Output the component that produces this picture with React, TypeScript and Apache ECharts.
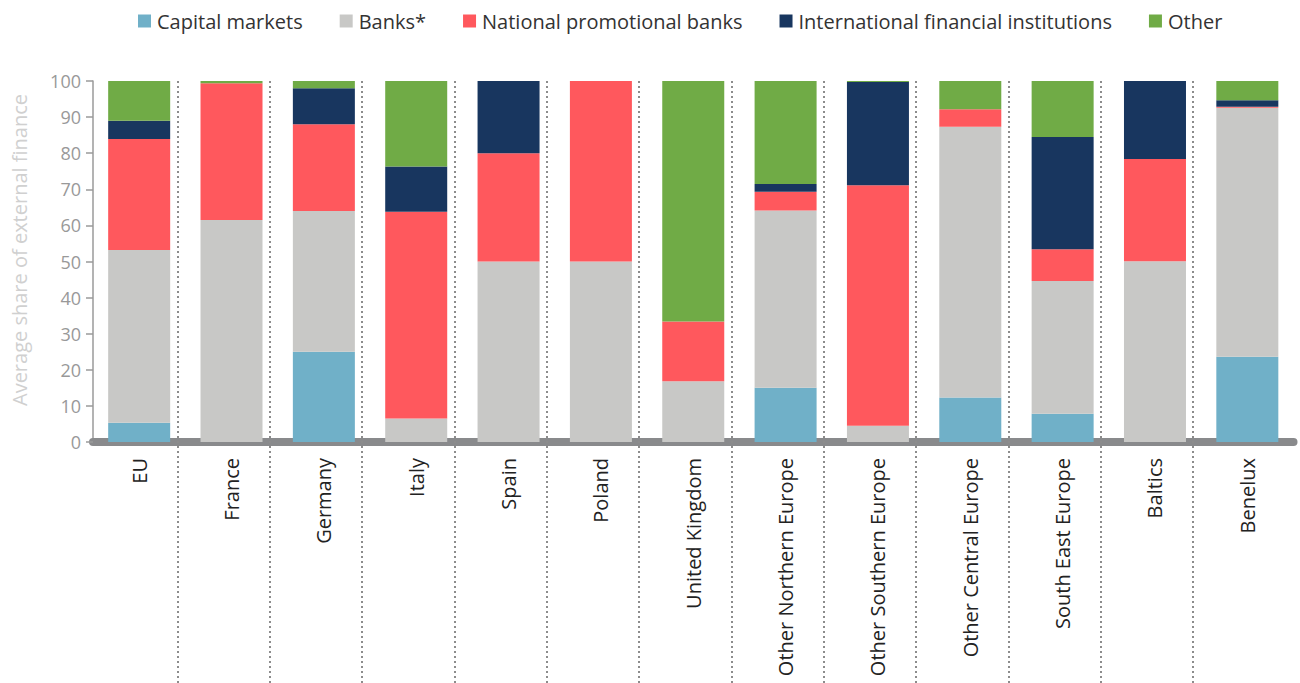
import React, { useEffect, useRef } from "react";
import * as echarts from "echarts";

const categories = [
  "EU",
  "France",
  "Germany",
  "Italy",
  "Spain",
  "Poland",
  "United Kingdom",
  "Other Northern Europe",
  "Other Southern Europe",
  "Other Central Europe",
  "South East Europe",
  "Baltics",
  "Benelux",
];

const capitalMarkets = [5.3, 0, 25, 0, 0, 0, 0, 15.0, 0, 12.3, 7.8, 0, 23.6];
const banks = [47.9, 61.5, 39, 6.5, 50, 50, 16.8, 49.1, 4.5, 75.0, 36.8, 50.1, 69.0];
const nationalPromotional = [30.7, 37.9, 24, 57.3, 30, 50, 16.6, 5.2, 66.6, 4.9, 8.8, 28.3, 0.3];
const internationalFI = [5.1, 0, 10, 12.5, 20, 0, 0, 2.2, 28.6, 0, 31.1, 21.6, 1.8];
const other = [11.0, 0.6, 2, 23.7, 0, 0, 66.6, 28.5, 0.3, 7.8, 15.5, 0, 5.3];

const seriesNames = [
  "Capital markets",
  "Banks*",
  "National promotional banks",
  "International financial institutions",
  "Other",
];
const seriesColors = ["#70b0c8", "#c8c8c6", "#ff585d", "#18365f", "#70ab46"];
const seriesValues = [capitalMarkets, banks, nationalPromotional, internationalFI, other];

const yTicks = { min: 0, max: 100, interval: 10 };
const yAxisTitle = "Average share of external finance";

const FONT = "'Open Sans', 'Noto Sans', sans-serif";

export default function App() {
  const ref = useRef<HTMLDivElement>(null);

  useEffect(() => {
    if (!ref.current) return;
    const chart = echarts.init(ref.current, undefined, { renderer: "svg" });

    const barSeries = seriesNames.map((name, i) => ({
      name,
      type: "bar",
      stack: "total",
      barWidth: 62,
      itemStyle: { color: seriesColors[i] },
      data: seriesValues[i].map((v) => (v === 0 ? "-" : v)),
    }));

    const separatorData = categories.slice(0, categories.length - 1).map((_, i) => [i]);

    chart.setOption({
      animation: false,
      textStyle: { fontFamily: FONT },
      legend: {
        data: seriesNames,
        left: 133,
        top: 6,
        itemWidth: 13,
        itemHeight: 13,
        itemGap: 37,
        icon: "rect",
        textStyle: { fontSize: 20, color: "#333", fontFamily: FONT, padding: [0, 0, 0, 1] },
      },
      grid: { left: 93, right: 6.5, top: 81, bottom: 241, containLabel: false },
      xAxis: {
        type: "category",
        data: categories,
        axisLine: { show: true, lineStyle: { color: "#898a8c", width: 8 } },
        axisTick: { show: false },
        axisLabel: {
          rotate: 90,
          margin: 16,
          fontSize: 20,
          color: "#222",
          fontFamily: FONT,
          interval: 0,
        },
        splitLine: { show: false },
      },
      yAxis: {
        type: "value",
        min: yTicks.min,
        max: yTicks.max,
        interval: yTicks.interval,
        axisLine: { show: true, lineStyle: { color: "#9a9a9a", width: 1.5 } },
        axisTick: { show: true, length: 7, lineStyle: { color: "#9a9a9a", width: 1.5 } },
        axisLabel: { fontSize: 18, color: "#999", margin: 12, fontFamily: FONT },
        splitLine: { show: false },
      },
      graphic: [
        {
          type: "text",
          x: 19,
          y: 250,
          rotation: Math.PI / 2,
          style: {
            text: yAxisTitle,
            fill: "#d0d0d0",
            fontSize: 20,
            fontFamily: FONT,
            align: "center",
            verticalAlign: "middle",
          },
        },
      ],
      series: [
        ...barSeries,
        {
          type: "custom",
          name: "separators",
          silent: true,
          clip: false,
          z: 1,
          data: separatorData,
          encode: { x: 0 },
          renderItem: (_params: any, api: any) => {
            const p = api.coord([api.value(0), 100]);
            const x = Math.round(p[0] + 38.5);
            return {
              type: "line",
              shape: { x1: x, y1: p[1], x2: x, y2: 690 },
              style: { stroke: "#8c8c8c", lineWidth: 2, lineDash: [2, 3] },
            };
          },
        },
      ],
    });

    return () => chart.dispose();
  }, []);

  return (
    <div
      ref={ref}
      style={{ position: "absolute", left: 0, top: 0, width: 1300, height: 683 }}
    />
  );
}
